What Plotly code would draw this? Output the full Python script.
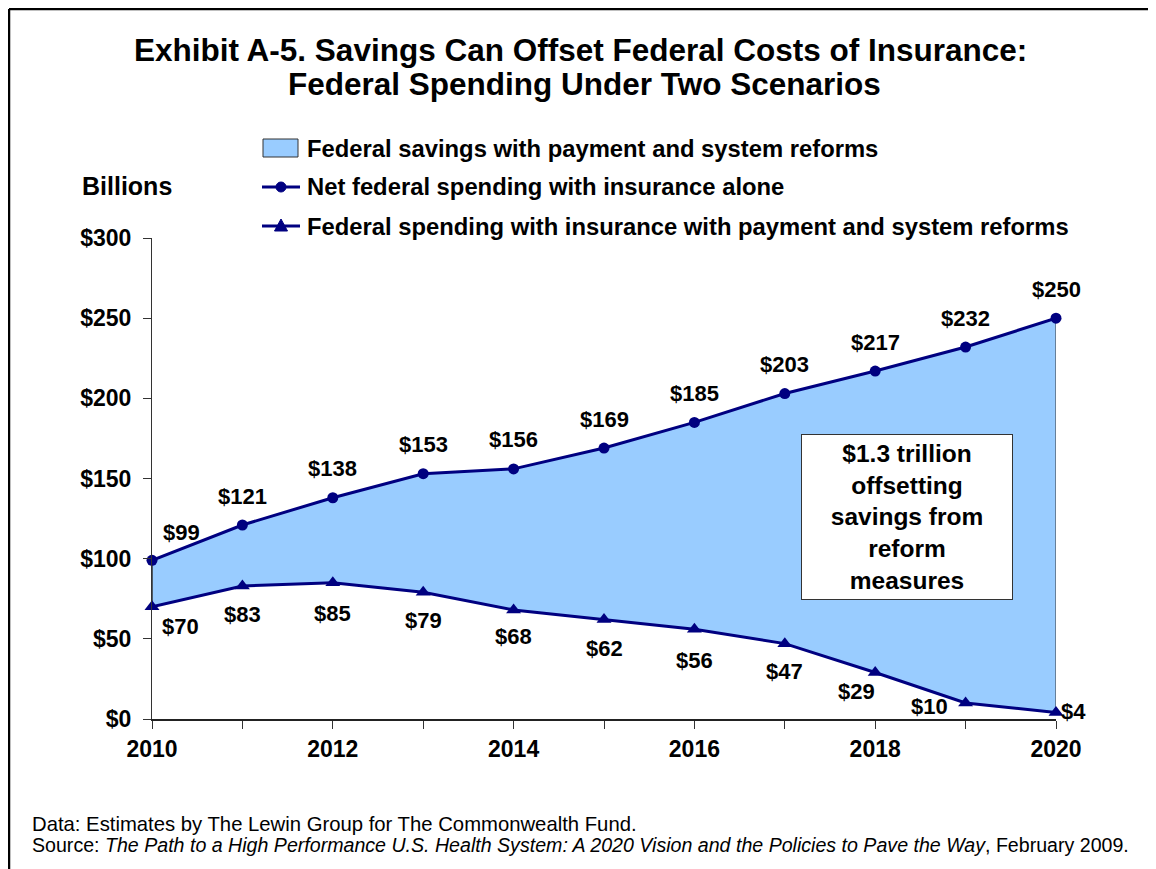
import plotly.graph_objects as go

years = [2010, 2011, 2012, 2013, 2014, 2015, 2016, 2017, 2018, 2019, 2020]
insurance_alone = [99, 121, 138, 153, 156, 169, 185, 203, 217, 232, 250]
with_reforms = [70, 83, 85, 79, 68, 62, 56, 47, 29, 10, 4]
y_ticks = [0, 50, 100, 150, 200, 250, 300]

legend_labels = [
    "Federal savings with payment and system reforms",
    "Net federal spending with insurance alone",
    "Federal spending with insurance with payment and system reforms",
]
callout_text = "$1.3 trillion<br>offsetting<br>savings from<br>reform<br>measures"

# label offsets in pixels (x, y-up) for each point's value label
upper_offsets = [(29, 28)] + [(0, 29)] * 10
lower_offsets = [(28, -20), (0, -29), (0, -31), (0, -28), (0, -27), (0, -29),
                 (0, -31), (0, -28), (-19, -19), (-36, -4), (17, 1)]

NAVY = "#000080"
FILL = "#99CCFF"
FONT = "Arial, Liberation Sans, sans-serif"

PAGE_W, PAGE_H = 1156, 869
OFF = 8  # the page body keeps an 8px margin, so the figure is shrunk to fit
W, H = PAGE_W - OFF, PAGE_H - OFF
L, R, T, B = 152, 1056, 238, 719  # plot area, in page pixels


def px(x, y):
    """page pixel position -> paper coordinates"""
    return (x - L) / (R - L), (B - y) / (B - T)


fig = go.Figure()

# shaded savings band
fig.add_trace(go.Scatter(x=years, y=with_reforms, mode="lines",
                         line=dict(width=0), showlegend=False, hoverinfo="skip"))
fig.add_trace(go.Scatter(x=years, y=insurance_alone, mode="lines", fill="tonexty",
                         fillcolor=FILL, line=dict(width=0), showlegend=False,
                         hoverinfo="skip"))
# edges of the band
for i in (0, -1):
    fig.add_trace(go.Scatter(x=[years[i], years[i]], y=[with_reforms[i], insurance_alone[i]],
                             mode="lines", line=dict(color="#333333", width=1.5 if i == 0 else 1),
                             showlegend=False, hoverinfo="skip"))

fig.add_trace(go.Scatter(
    x=years, y=insurance_alone, mode="lines+markers", name=legend_labels[1],
    line=dict(color=NAVY, width=3), marker=dict(symbol="circle", size=11, color=NAVY),
    cliponaxis=False, showlegend=False,
))
fig.add_trace(go.Scatter(
    x=years, y=with_reforms, mode="lines+markers", name=legend_labels[2],
    line=dict(color=NAVY, width=3), marker=dict(symbol="triangle-up", size=13, color=NAVY),
    cliponaxis=False, showlegend=False,
))

ann = []
lab_font = dict(family=FONT, size=22, color="black")
for x, v, (dx, dy) in zip(years, insurance_alone, upper_offsets):
    ann.append(dict(x=x, y=v, text=f"<b>${v}</b>", showarrow=False, xshift=dx, yshift=dy,
                    font=lab_font))
for x, v, (dx, dy) in zip(years, with_reforms, lower_offsets):
    ann.append(dict(x=x, y=v, text=f"<b>${v}</b>", showarrow=False, xshift=dx, yshift=dy,
                    font=lab_font))


def page_text(x, y, text, size, anchor="center", **kw):
    tx, ty = px(x, y)
    return dict(xref="paper", yref="paper", x=tx, y=ty, xanchor=anchor, yanchor="middle",
                showarrow=False, text=text, font=dict(family=FONT, size=size, color="black"), **kw)


# title
ann.append(page_text(580, 50, "<b>Exhibit A-5. Savings Can Offset Federal Costs of Insurance:</b>", 31.5))
ann.append(page_text(584, 84, "<b>Federal Spending Under Two Scenarios</b>", 31.5))

# axis caption
ann.append(page_text(80, 186, "<b>Billions</b>", 25, anchor="left"))

# hand-built legend
shapes = []
rows = [148, 187, 226]
for lab, ry in zip(legend_labels, rows):
    ann.append(page_text(305, ry, f"<b>{lab}</b>", 23.8, anchor="left"))
x0, y0 = px(263, 139)
x1, y1 = px(298, 157)
shapes.append(dict(type="rect", xref="paper", yref="paper", x0=x0, y0=y0, x1=x1, y1=y1,
                   fillcolor=FILL, line=dict(color="#333333", width=1)))
for ry in rows[1:]:
    x0, yy = px(262, ry)
    x1, _ = px(300, ry)
    shapes.append(dict(type="line", xref="paper", yref="paper", x0=x0, y0=yy, x1=x1, y1=yy,
                       line=dict(color=NAVY, width=3)))
cx0, cy0 = px(276, 182)
cx1, cy1 = px(286, 192)
shapes.append(dict(type="circle", xref="paper", yref="paper", x0=cx0, y0=cy0, x1=cx1, y1=cy1,
                   fillcolor=NAVY, line=dict(color=NAVY, width=1)))
a = px(281, 219)
b = px(274.5, 231)
c = px(287.5, 231)
shapes.append(dict(type="path", xref="paper", yref="paper",
                   path=f"M {a[0]} {a[1]} L {b[0]} {b[1]} L {c[0]} {c[1]} Z",
                   fillcolor=NAVY, line=dict(color=NAVY, width=1)))

# callout box
ann.append(page_text(907, 517, f"<b>{callout_text}</b>", 24.5, width=204, height=158,
                     borderpad=3, bgcolor="white", bordercolor="#333333", borderwidth=1))

# footnotes
ann.append(page_text(30, 824, "Data: Estimates by The Lewin Group for The Commonwealth Fund.",
                     20.3, anchor="left"))
ann.append(page_text(30, 845, "Source: <i>The Path to a High Performance U.S. Health System: A 2020 "
                              "Vision and the Policies to Pave the Way</i>, February 2009.",
                     19.6, anchor="left"))

# page frame (top and left edges)
fx0, fy0 = px(OFF + 1, OFF + 1)
fx1, _ = px(PAGE_W + 5, OFF + 1)
_, fy1 = px(OFF + 1, PAGE_H + 5)
shapes.append(dict(type="line", xref="paper", yref="paper", x0=fx0, y0=fy0, x1=fx1, y1=fy0,
                   line=dict(color="black", width=2.5)))
shapes.append(dict(type="line", xref="paper", yref="paper", x0=fx0, y0=fy0, x1=fx0, y1=fy1,
                   line=dict(color="black", width=2.5)))

fig.update_layout(
    width=W, height=H,
    margin=dict(l=L - OFF, r=PAGE_W - R, t=T - OFF, b=PAGE_H - B, pad=0),
    paper_bgcolor="white", plot_bgcolor="white",
    showlegend=False,
    font=dict(family=FONT, color="black"),
    annotations=ann, shapes=shapes,
    xaxis=dict(range=[years[0], years[-1]], tickvals=years,
               ticktext=[f"<b>{y}</b>" if y % 2 == 0 else "" for y in years],
               ticks="outside", ticklen=8, tickcolor="#333333", tickwidth=1,
               showline=True, linecolor="#222222", linewidth=1.5, showgrid=False,
               zeroline=False, tickfont=dict(size=23, family=FONT), ticklabelstandoff=1),
    yaxis=dict(range=[0, 300], tickvals=y_ticks,
               ticktext=[f"<b>${v}</b>" for v in y_ticks],
               ticks="outside", ticklen=8, tickcolor="#333333", tickwidth=1,
               showline=True, linecolor="#333333", linewidth=1, showgrid=False,
               zeroline=False, tickfont=dict(size=23, family=FONT), ticklabelstandoff=7),
)

fig.write_html("out.html")
